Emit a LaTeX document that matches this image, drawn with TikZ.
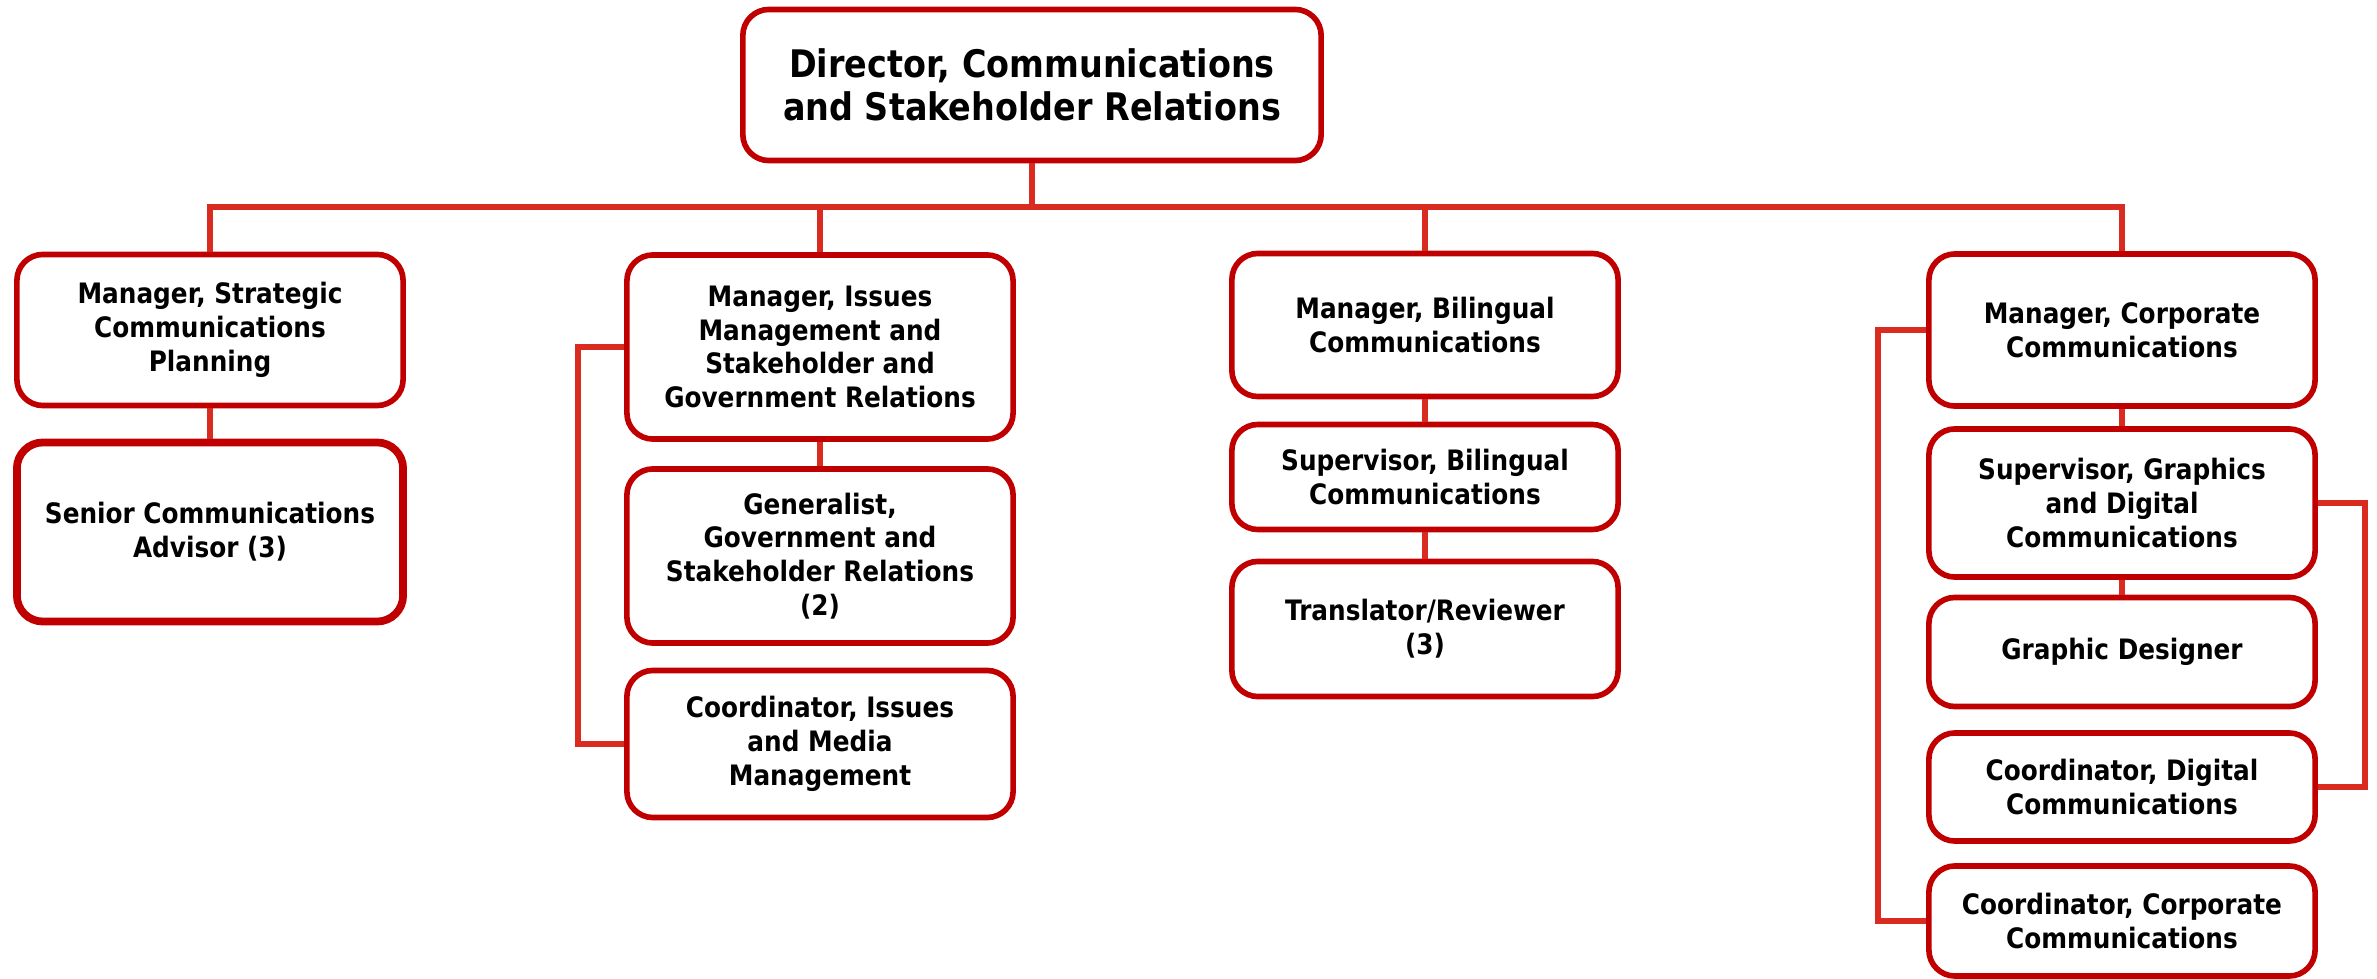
\documentclass[tikz,border=0pt]{standalone}
\usepackage{fontspec}
\setmainfont{DejaVu Sans}[FakeStretch=0.88]
\usepackage{tikz}
\usetikzlibrary{positioning}
\definecolor{boxred}{HTML}{C00000}
\definecolor{linkred}{HTML}{D92B20}

\begin{document}
\begin{tikzpicture}[x=0.01cm,y=-0.01cm,
  post/.style={draw=boxred,line width=1.6pt,rounded corners=0.26cm,fill=white,
    align=center,inner sep=0pt,minimum width=3.86cm,
    font=\fontsize{8}{9.6}\selectfont\bfseries},
  link/.style={draw=linkred,line width=1.5pt}]
\useasboundingbox (0,0) rectangle (2377,979);

\node[post,minimum width=5.78cm,minimum height=1.51cm,
  font=\fontsize{10.8}{12.2}\selectfont\bfseries] (dir) at (1032,85)
  {Director, Communications\\and Stakeholder Relations};
\coordinate (bus) at (1032,207);

% strategic planning
\node[post,minimum height=1.51cm] (msp) at (210,330) {Manager, Strategic\\Communications\\Planning};
\node[post,minimum height=1.79cm,line width=2.2pt] (sca) at (210,532) {Senior Communications\\Advisor (3)};

% issues and relations
\node[post,minimum height=1.84cm] (mim) at (820,347) {Manager, Issues\\Management and\\Stakeholder and\\Government Relations};
\node[post,minimum height=1.74cm] (gen) at (820,556) {Generalist,\\Government and\\Stakeholder Relations\\(2)};
\node[post,minimum height=1.47cm] (cim) at (820,744) {Coordinator, Issues\\and Media\\Management};

% bilingual
\node[post,minimum height=1.43cm] (mbc) at (1425,325) {Manager, Bilingual\\Communications};
\node[post,minimum height=1.05cm] (sbc) at (1425,477) {Supervisor, Bilingual\\Communications};
\node[post,minimum height=1.35cm] (trv) at (1425,629) {Translator/Reviewer\\(3)};

% corporate
\node[post,minimum height=1.52cm] (mcc) at (2122,330) {Manager, Corporate\\Communications};
\node[post,minimum height=1.48cm] (sgd) at (2122,503) {Supervisor, Graphics\\and Digital\\Communications};
\node[post,minimum height=1.09cm] (gds) at (2122,652) {Graphic Designer};
\node[post,minimum height=1.08cm] (cdc) at (2122,787) {Coordinator, Digital\\Communications};
\node[post,minimum height=1.10cm] (ccc) at (2122,921) {Coordinator, Corporate\\Communications};

\draw[link] (dir) -- (bus);
\draw[link] (msp) |- (bus) -| (mcc);
\draw[link] (mim) |- (bus);
\draw[link] (mbc) |- (bus);

\draw[link] (msp) -- (sca);
\draw[link] (mim) -- (gen);
\draw[link] (mim.west) -- ++(-46,0) |- (cim.west);
\draw[link] (mbc) -- (sbc);
\draw[link] (sbc) -- (trv);
\draw[link] (mcc) -- (sgd);
\draw[link] (sgd) -- (gds);
\draw[link] (mcc.west) -- ++(-48,0) |- (ccc.west);
\draw[link] (sgd.east) -- ++(47,0) |- (cdc.east);
\end{tikzpicture}
\end{document}
